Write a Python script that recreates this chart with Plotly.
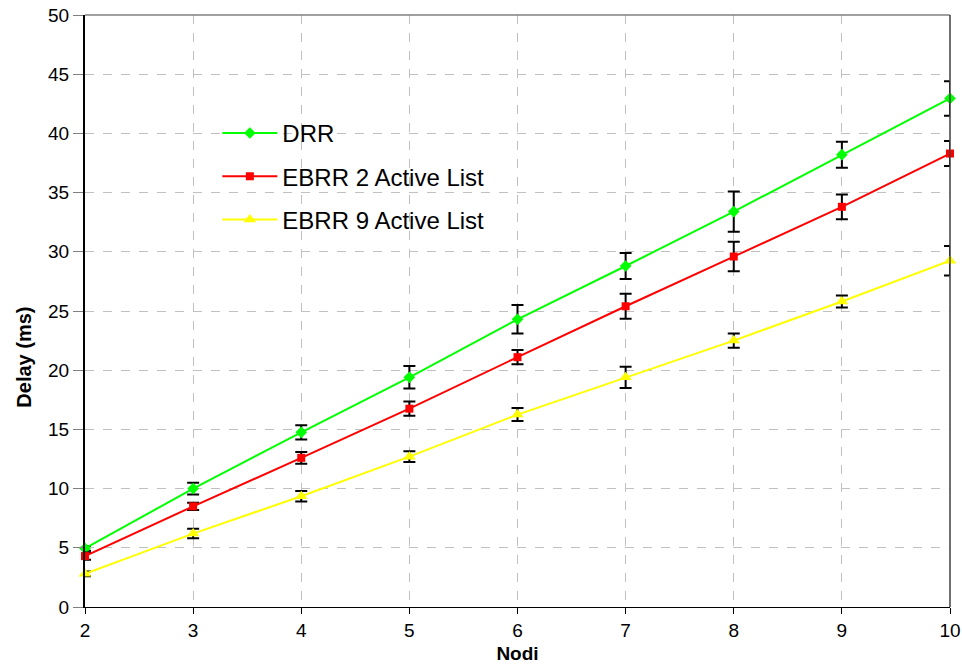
import plotly.graph_objects as go

# Number of nodes
nodi = [2, 3, 4, 5, 6, 7, 8, 9, 10]

# Mean delay (ms) per protocol
drr = [4.95, 10.0, 14.75, 19.4, 24.3, 28.8, 33.4, 38.2, 42.95]
ebrr2 = [4.3, 8.5, 12.6, 16.75, 21.1, 25.4, 29.6, 33.8, 38.3]
ebrr9 = [2.8, 6.2, 9.35, 12.7, 16.25, 19.4, 22.5, 25.8, 29.25]

# Error bar half-widths (ms)
drr_err = [0.2, 0.5, 0.6, 0.95, 1.2, 1.1, 1.7, 1.1, 1.45]
ebrr2_err = [0.3, 0.3, 0.5, 0.6, 0.6, 1.05, 1.25, 1.05, 1.05]
ebrr9_err = [0.2, 0.4, 0.45, 0.45, 0.55, 0.9, 0.6, 0.5, 1.25]

series = [
    ("DRR", drr, drr_err, "#00FF00", "diamond", 9),
    ("EBRR 2 Active List", ebrr2, ebrr2_err, "#FF0000", "square", 8),
    ("EBRR 9 Active List", ebrr9, ebrr9_err, "#FFFF00", "triangle-up", 11),
]

fig = go.Figure()
for name, vals, err, color, symbol, size in series:
    fig.add_trace(go.Scatter(
        x=nodi, y=vals, name=name, mode="lines+markers",
        legendgroup=name,
        line=dict(color=color, width=2),
        marker=dict(color=color, symbol=symbol, size=size),
        error_y=dict(type="data", array=err, visible=True,
                     color="black", thickness=2, width=6),
        cliponaxis=False,
    ))

font_family = "Liberation Sans, Arial, sans-serif"

fig.update_layout(
    width=962, height=668,
    margin=dict(l=85, r=12, t=15, b=61),
    paper_bgcolor="white", plot_bgcolor="white",
    font=dict(family=font_family, color="black"),
    showlegend=True,
    legend=dict(
        x=0.153, y=0.838, xanchor="left", yanchor="top",
        bgcolor="rgba(0,0,0,0)", borderwidth=0,
        font=dict(size=24, color="black"),
        tracegroupgap=9, itemwidth=55,
    ),
    xaxis=dict(
        range=[2, 10], tickmode="array", tickvals=nodi,
        ticktext=[str(v) for v in nodi],
        automargin=False,
        showgrid=True, gridcolor="#C0C0C0", griddash="dash", gridwidth=1,
        showline=True, linecolor="black", linewidth=1, mirror=False,
        ticks="outside", ticklen=6, tickcolor="black",
        tickfont=dict(size=19),
        title=dict(text="<b>Nodi</b>", font=dict(size=19), standoff=6),
        zeroline=False,
    ),
    yaxis=dict(
        range=[0, 50], tickmode="array", tickvals=list(range(0, 51, 5)),
        automargin=False,
        showgrid=True, gridcolor="#C0C0C0", griddash="dash", gridwidth=1,
        showline=True, linecolor="black", linewidth=2,
        ticks="outside", ticklen=10, tickcolor="#808080",
        tickfont=dict(size=19),
        zeroline=False,
    ),
)

# Y-axis title, placed slightly below the plot-area centre
fig.add_annotation(
    text="<b>Delay (ms)</b>", xref="paper", yref="paper",
    x=-0.07, y=0.422, xanchor="center", yanchor="middle",
    textangle=-90, showarrow=False, font=dict(size=20),
)

# Plot-area frame: grey top edge and dark right edge
fig.add_shape(type="line", xref="paper", yref="paper", x0=0, x1=1, y0=1, y1=1,
              line=dict(color="#808080", width=1.5))
fig.add_shape(type="line", xref="paper", yref="paper", x0=1, x1=1, y0=0, y1=1,
              line=dict(color="#404040", width=1.5))

fig.write_html("out.html")
